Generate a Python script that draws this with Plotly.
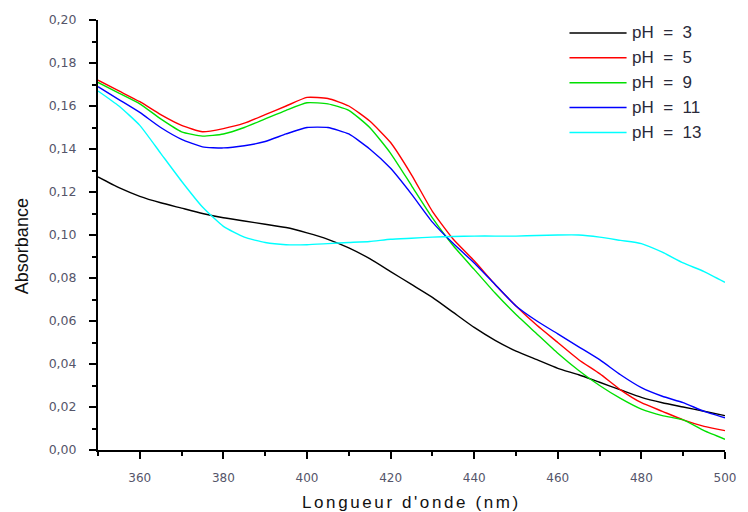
import plotly.graph_objects as go

wavelength = list(range(350, 505, 5))

ph3 = [0.127, 0.122, 0.118, 0.115, 0.1125, 0.110, 0.108, 0.1065, 0.105, 0.1035, 0.101,
       0.098, 0.094, 0.089, 0.083, 0.077, 0.071, 0.064, 0.057, 0.051, 0.046, 0.042,
       0.038, 0.035, 0.0315, 0.028, 0.0245, 0.022, 0.020, 0.018, 0.016]
ph5 = [0.172, 0.167, 0.162, 0.156, 0.151, 0.148, 0.1495, 0.152, 0.156, 0.160, 0.164,
       0.1635, 0.160, 0.153, 0.143, 0.128, 0.111, 0.098, 0.088, 0.077, 0.067, 0.058,
       0.050, 0.042, 0.0355, 0.028, 0.022, 0.018, 0.014, 0.011, 0.009]
ph9 = [0.171, 0.166, 0.161, 0.154, 0.148, 0.146, 0.147, 0.150, 0.154, 0.158, 0.1615,
       0.161, 0.158, 0.150, 0.138, 0.123, 0.108, 0.095, 0.084, 0.073, 0.063, 0.054,
       0.045, 0.037, 0.030, 0.024, 0.019, 0.016, 0.014, 0.009, 0.005]
ph11 = [0.169, 0.163, 0.157, 0.150, 0.1445, 0.141, 0.1405, 0.1415, 0.1435, 0.147, 0.150,
        0.150, 0.147, 0.140, 0.131, 0.119, 0.106, 0.096, 0.087, 0.077, 0.067, 0.060,
        0.054, 0.048, 0.042, 0.035, 0.029, 0.025, 0.022, 0.018, 0.015]
ph13 = [0.167, 0.160, 0.151, 0.138, 0.125, 0.113, 0.104, 0.099, 0.0965, 0.0955, 0.0955,
        0.096, 0.0965, 0.097, 0.098, 0.0985, 0.099, 0.0993, 0.0995, 0.0995, 0.0995, 0.0998,
        0.100, 0.100, 0.099, 0.0975, 0.096, 0.092, 0.087, 0.083, 0.078]

labels = ["pH  =  3", "pH  =  5", "pH  =  9", "pH  =  11", "pH  =  13"]
series = [ph3, ph5, ph9, ph11, ph13]
colors = ["#000000", "#ff0000", "#00e000", "#0000ff", "#00ffff"]

x_ticks = [360, 380, 400, 420, 440, 460, 480, 500]
y_ticks = [0.00, 0.02, 0.04, 0.06, 0.08, 0.10, 0.12, 0.14, 0.16, 0.18, 0.20]
x_title = "Longueur d'onde (nm)"
y_title = "Absorbance"

FONT = "Liberation Sans, Arial, sans-serif"
TFONT = "DejaVu Sans, sans-serif"

fig = go.Figure()
for name, ys, c in zip(labels, series, colors):
    fig.add_trace(go.Scatter(x=wavelength, y=ys, mode="lines", name=name,
                             line=dict(color=c, width=1.4, shape="spline", smoothing=0.5),
                             showlegend=False))

plot_l, plot_r, plot_t, plot_b = 98, 735, 18, 450
pw, ph = plot_r - plot_l, plot_b - plot_t

# manual legend (paper coordinates)
for i, (name, c) in enumerate(zip(labels, colors)):
    py = 31 + 25 * i
    yp = (plot_b - py) / ph
    fig.add_shape(type="line", xref="paper", yref="paper",
                  x0=(577 - plot_l) / pw, x1=(635 - plot_l) / pw, y0=yp, y1=yp,
                  line=dict(color=c, width=1.5))
    fig.add_annotation(xref="paper", yref="paper", x=(638 - plot_l) / pw, y=yp,
                       text=name, showarrow=False, xanchor="left", yanchor="middle",
                       font=dict(family=FONT, size=17, color="#2a2a3a"))

# axis titles
fig.add_annotation(xref="paper", yref="paper", x=(416 - plot_l) / pw, y=(plot_b - 503) / ph,
                   text='<span style="letter-spacing:2.6px">' + x_title + '</span>',
                   showarrow=False, xanchor="center", yanchor="middle",
                   font=dict(family=FONT, size=17, color="#111"))
fig.add_annotation(xref="paper", yref="paper", x=(21 - plot_l) / pw, y=(plot_b - 245) / ph,
                   text=y_title, textangle=-90,
                   showarrow=False, xanchor="center", yanchor="middle",
                   font=dict(family=FONT, size=18, color="#111"))

fig.update_layout(
    width=748, height=512,
    margin=dict(l=plot_l, r=748 - plot_r, t=plot_t, b=512 - plot_b),
    paper_bgcolor="white", plot_bgcolor="white",
    separators=", ",
    font=dict(family=FONT),
    showlegend=False,
)
fig.update_xaxes(
    range=[350, 500], tickvals=x_ticks, ticktext=[str(v) for v in x_ticks],
    showgrid=False, zeroline=False, showline=True, linecolor="black", linewidth=2,
    ticks="outside", ticklen=7, tickwidth=2, tickcolor="black",
    minor=dict(dtick=10, tick0=350, ticks="outside", ticklen=4, tickwidth=2, tickcolor="black"),
    tickfont=dict(family=TFONT, size=12, color="#55556a"),
    ticklabelstandoff=9,
)
fig.update_yaxes(
    range=[0, 0.2], tickvals=y_ticks, tickformat=".2f",
    showgrid=False, zeroline=False, showline=True, linecolor="black", linewidth=2,
    ticks="outside", ticklen=7, tickwidth=2, tickcolor="black",
    minor=dict(dtick=0.01, tick0=0, ticks="outside", ticklen=4, tickwidth=2, tickcolor="black"),
    tickfont=dict(family=TFONT, size=12.5, color="#55556a"),
    ticklabelstandoff=10,
)

fig.write_html("out.html")
